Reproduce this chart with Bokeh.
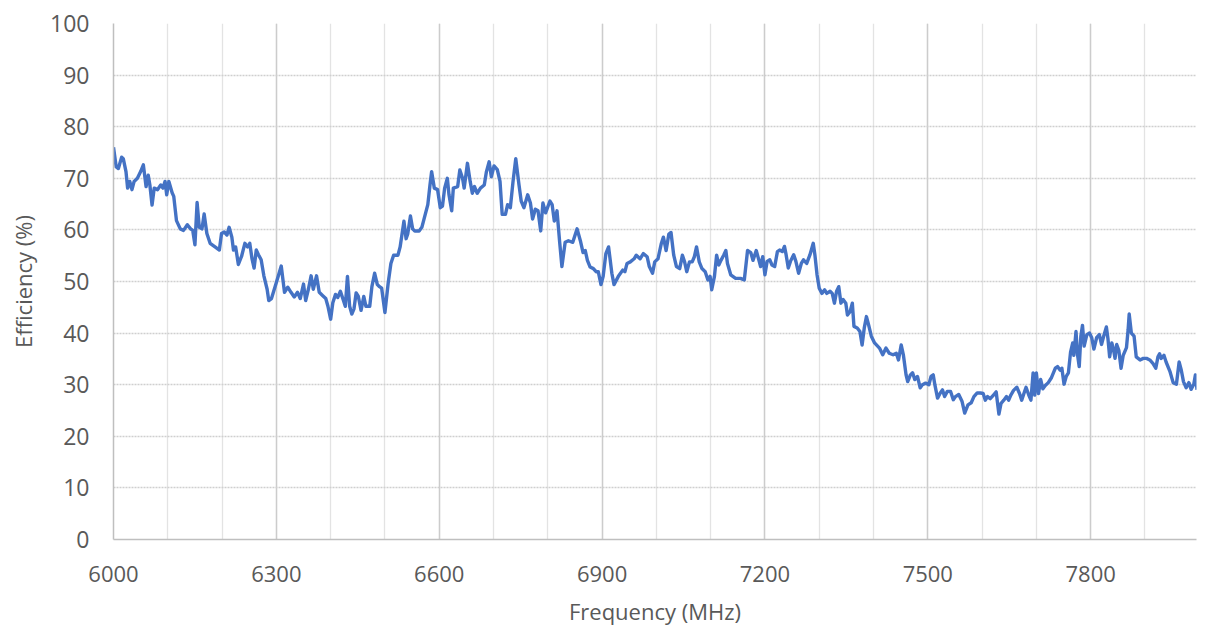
from bokeh.plotting import figure
from bokeh.models import SingleIntervalTicker, FixedTicker, Range1d
from bokeh.embed import file_html
from bokeh.resources import INLINE

freq_mhz = [
    6000, 6005, 6009, 6015, 6018, 6023, 6026, 6030, 6034, 6038, 6044, 6050, 6055, 6060, 6064, 6067,
    6071, 6075, 6081, 6087, 6091, 6095, 6098, 6102, 6108, 6111, 6116, 6123, 6129, 6136, 6142, 6146,
    6150, 6154, 6158, 6163, 6167, 6172, 6178, 6187, 6195, 6199, 6204, 6209, 6213, 6218, 6221, 6225,
    6230, 6236, 6242, 6247, 6251, 6255, 6259, 6263, 6267, 6272, 6277, 6283, 6286, 6291, 6300, 6309,
    6315, 6321, 6327, 6333, 6339, 6344, 6350, 6354, 6359, 6364, 6368, 6374, 6379, 6385, 6391,
    6395, 6400, 6404, 6409, 6413, 6418, 6423, 6427, 6431, 6435, 6439, 6443, 6447, 6451, 6456, 6461,
    6465, 6472, 6476, 6481, 6486, 6490, 6494, 6500, 6506, 6511, 6516, 6524, 6528, 6535, 6539, 6542,
    6547, 6551, 6555, 6563, 6568, 6572, 6579, 6583, 6586, 6591, 6597, 6602, 6606, 6610, 6615, 6618,
    6623, 6626, 6634, 6638, 6643, 6646, 6652, 6657, 6661, 6665, 6670, 6676, 6683, 6687, 6692, 6696,
    6701, 6707, 6712, 6716, 6722, 6726, 6731, 6736, 6741, 6747, 6751, 6756, 6763, 6768, 6772, 6777,
    6782, 6787, 6791, 6796,
    6804, 6808, 6812, 6817, 6822, 6826, 6832, 6838, 6846, 6854, 6860, 6865, 6869, 6873, 6878, 6884,
    6889, 6893, 6898, 6902, 6907, 6912, 6918, 6922, 6930, 6938, 6942, 6946, 6952, 6959, 6963, 6970,
    6976, 6983, 6987, 6993, 6997, 7003, 7009, 7013, 7018, 7023, 7027, 7032, 7037, 7043, 7048, 7052,
    7056, 7061, 7066, 7070, 7074, 7079, 7084, 7090, 7095, 7099, 7102, 7107, 7111, 7115, 7119, 7124,
    7128, 7131, 7137, 7146, 7155, 7162, 7168, 7174, 7178, 7184, 7189, 7192, 7196,
    7200, 7204, 7209, 7213, 7218, 7223, 7227, 7232, 7236, 7239, 7243, 7247, 7253, 7257, 7262, 7267,
    7271, 7277, 7283, 7289, 7292, 7296, 7300, 7305, 7310, 7314, 7320, 7324, 7328, 7332, 7336, 7340,
    7344, 7349, 7352, 7357, 7361, 7364, 7370, 7375, 7379, 7383, 7387, 7391, 7396, 7402, 7411, 7417,
    7423, 7429, 7436, 7442, 7446, 7451, 7455, 7460, 7463, 7468, 7472, 7476, 7481, 7486, 7490, 7496,
    7502, 7506, 7510, 7513, 7518, 7523, 7527, 7531, 7536, 7542, 7547, 7551, 7557, 7563, 7568, 7574,
    7580, 7585, 7591, 7597,
    7602, 7606, 7610, 7615, 7621, 7626, 7631, 7635, 7640, 7645, 7649, 7653, 7658, 7664, 7669, 7673,
    7678, 7681, 7686, 7690, 7694, 7697, 7700, 7704, 7708, 7712, 7716, 7722, 7728, 7735, 7739, 7744,
    7747, 7751, 7755, 7759, 7763, 7767, 7769, 7773, 7776, 7779, 7782, 7785, 7788, 7793, 7798, 7802,
    7806, 7811, 7816, 7820, 7824, 7829, 7832, 7835, 7839, 7842, 7845, 7848, 7852, 7856, 7860, 7866,
    7869, 7871, 7875, 7880, 7884, 7891, 7897, 7903, 7909, 7915, 7920, 7924, 7927, 7930, 7935, 7939,
    7946, 7952, 7958, 7963, 7967, 7971, 7976, 7981, 7985, 7990, 7993, 7996,
]

efficiency_pct = [
    76.0, 72.2, 71.9, 74.1, 73.8, 71.3, 68.1, 69.4, 67.8, 69.4, 70.0, 71.3, 72.6, 68.4, 70.6, 68.7,
    64.8, 68.1, 67.8, 68.7, 68.1, 69.4, 66.8, 69.4, 67.2, 66.5, 61.8, 60.2, 59.9, 61.0, 60.2, 59.9,
    57.1, 65.3, 60.5, 60.2, 63.1, 59.3, 57.4, 56.7, 56.1, 59.3, 59.6, 59.0, 60.5, 58.6, 56.1, 56.7,
    53.3, 54.9, 57.4, 56.7, 57.4, 54.5, 52.6, 56.1, 55.2, 54.2, 51.1, 48.5, 46.3, 46.7, 49.8, 53.0,
    47.9, 48.9, 47.9, 47.0, 47.9, 46.7, 49.5, 46.3, 48.5, 51.1, 48.5, 51.1, 47.9, 47.3, 46.7,
    45.2, 42.7, 45.9, 47.5, 46.9, 48.1, 46.5, 45.2, 51.0, 45.2, 43.7, 44.7, 47.8, 47.1, 44.4, 47.1,
    45.2, 45.2, 49.0, 51.6, 49.4, 49.0, 48.7, 44.0, 49.7, 53.5, 55.1, 55.1, 56.7, 61.7, 58.3, 59.2,
    62.7, 60.2, 59.8, 59.8, 60.5, 62.1, 64.9, 68.7, 71.3, 68.1, 67.8, 64.3, 64.6, 68.1, 70.0, 66.8,
    63.7, 68.1, 68.4, 71.6, 70.0, 68.1, 72.9, 69.4, 67.1, 68.4, 67.1, 68.1, 68.7, 71.3, 73.2, 70.3,
    72.4, 71.7, 69.4, 63.0, 63.0, 64.9, 64.3, 69.4, 73.8, 68.7, 65.6, 64.3, 66.8, 65.2, 62.1, 64.0,
    63.7, 59.8, 65.2, 63.3,
    65.6, 64.9, 61.7, 63.7, 57.5, 52.9, 57.6, 57.9, 57.6, 60.2, 57.9, 55.6, 56.0, 54.1, 52.8, 52.5,
    51.9, 51.9, 49.4, 51.0, 55.4, 56.7, 51.6, 49.4, 51.0, 52.2, 51.9, 53.5, 53.8, 54.4, 55.1, 54.4,
    55.4, 54.8, 52.9, 51.6, 53.8, 54.4, 57.3, 58.6, 56.0, 59.2, 59.5, 55.1, 52.9, 52.5, 55.1, 53.8,
    51.9, 53.8, 53.8, 54.8, 56.7, 53.8, 52.5, 51.9, 50.3, 51.0, 48.4, 51.0, 55.1, 53.2, 54.1, 55.1,
    56.0, 53.5, 51.3, 50.6, 50.6, 50.3, 56.0, 55.6, 54.1, 56.0, 54.1, 52.9, 54.8,
    51.3, 53.9, 54.2, 53.2, 52.9, 55.8, 56.1, 55.8, 56.8, 55.2, 52.6, 53.9, 55.2, 53.9, 51.6, 53.5,
    54.2, 53.5, 55.2, 57.4, 55.2, 51.3, 48.7, 47.7, 48.4, 47.7, 48.1, 47.7, 45.8, 48.1, 49.0, 45.8,
    46.5, 45.8, 43.5, 44.2, 45.8, 41.3, 41.0, 40.3, 37.7, 41.0, 43.2, 41.6, 39.4, 38.1, 37.1, 35.8,
    37.1, 36.1, 35.8, 36.1, 34.8, 37.7, 35.8, 31.9, 30.6, 31.9, 32.3, 31.0, 31.6, 29.4, 30.0, 30.3,
    30.0, 31.6, 31.9, 30.0, 27.4, 28.4, 29.0, 27.7, 28.7, 28.7, 27.1, 27.7, 28.1, 26.8, 24.5, 26.1,
    26.5, 27.7, 28.4, 28.4,
    28.3, 27.0, 27.7, 27.3, 28.0, 28.6, 24.3, 26.4, 27.0, 27.7, 27.0, 28.0, 28.9, 29.5, 28.3, 27.0,
    28.6, 29.5, 28.0, 27.0, 32.3, 28.0, 32.3, 28.3, 31.0, 29.2, 29.8, 30.4, 31.4, 33.2, 33.5, 32.8,
    33.2, 30.1, 31.6, 32.3, 36.3, 38.1, 35.7, 40.3, 35.7, 33.5, 39.4, 41.5, 37.5, 39.7, 40.0, 39.1,
    36.9, 39.1, 39.7, 37.8, 39.4, 41.2, 38.8, 35.4, 38.1, 36.9, 35.1, 37.8, 36.6, 33.2, 35.7, 37.2,
    40.6, 43.7, 40.0, 39.4, 35.4, 34.8, 35.1, 35.1, 34.8, 34.1, 33.2, 35.4, 36.0, 35.1, 35.7, 34.4,
    32.6, 30.4, 30.1, 34.4, 32.8, 30.6, 29.4, 30.4, 29.1, 30.1, 31.9, 29.0,
]

x_start, x_end = 6000, 7995
y_ticks = list(range(0, 101, 10))

FONT = "Open Sans"
LABEL_COLOR = "#595959"

p = figure(
    width=1197, height=629,
    x_range=Range1d(x_start, x_end), y_range=Range1d(0, 100),
    output_backend="svg", toolbar_location=None,
    min_border_left=113, min_border_right=1, min_border_top=23, min_border_bottom=90,
)
p.outline_line_color = None
p.background_fill_color = "white"
p.border_fill_color = "white"

p.line(freq_mhz, efficiency_pct, line_color="#4472C4", line_width=3.4, line_join="round")

p.xaxis.ticker = SingleIntervalTicker(interval=300, num_minor_ticks=3)
p.yaxis.ticker = FixedTicker(ticks=y_ticks)

for ax in (p.xaxis, p.yaxis):
    ax.major_tick_line_color = None
    ax.minor_tick_line_color = None
    ax.major_tick_out = 0
    ax.major_tick_in = 0
    ax.minor_tick_out = 0
    ax.axis_line_color = "#bfbfbf"
    ax.axis_line_width = 1.5
    ax.major_label_text_font = FONT
    ax.major_label_text_font_size = "22px"
    ax.major_label_text_color = LABEL_COLOR
    ax.axis_label_text_font = FONT
    ax.axis_label_text_font_size = "22px"
    ax.axis_label_text_font_style = "normal"
    ax.axis_label_text_color = LABEL_COLOR

p.yaxis.major_label_text_font_size = "23px"

p.xaxis.axis_label = "Frequency (MHz)"
p.yaxis.axis_label = "Efficiency (%)"
p.xaxis.major_label_standoff = 26
p.yaxis.major_label_standoff = 24
p.xaxis.axis_label_standoff = 11
p.yaxis.axis_label_standoff = 9

p.xgrid.grid_line_color = "#cccccc"
p.xgrid.grid_line_width = 1.4
p.xgrid.minor_grid_line_color = "#e3e3e3"
p.xgrid.minor_grid_line_width = 1.3
p.ygrid.grid_line_color = "#cfcfcf"
p.ygrid.grid_line_width = 1.5
p.ygrid.grid_line_dash = "2 1"

open("out.html", "w").write(file_html(p, INLINE))
